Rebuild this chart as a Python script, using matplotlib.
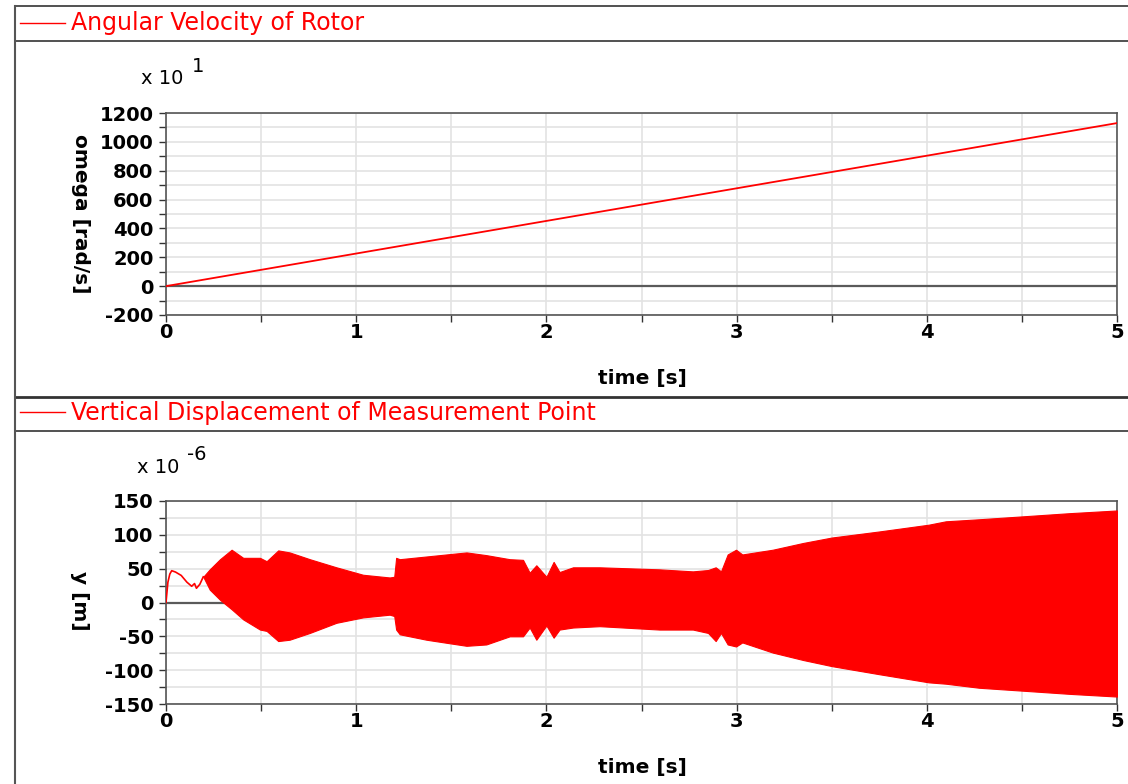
import numpy as np
import matplotlib.pyplot as plt
from matplotlib.lines import Line2D
from matplotlib.ticker import MultipleLocator

# --- data ---
# angular velocity of rotor, shown in units of x10 rad/s
t_omega = [0.0, 5.0]
omega = [0.0, 1130.0]

# vertical displacement (x1e-6 m): start transient as a line
t_start = [0.0, 0.01, 0.02, 0.03, 0.05, 0.08, 0.11, 0.135, 0.15, 0.16, 0.178, 0.196]
y_start = [0, 30, 42, 47, 45, 40, 30, 24, 28, 21, 27, 38]

# then the dense oscillation, kept as its upper / lower envelope
t_env = [0.196, 0.23, 0.284, 0.345, 0.406, 0.494, 0.529, 0.59, 0.65, 0.756,
         0.896, 1.036, 1.176, 1.20, 1.21, 1.229, 1.369, 1.509, 1.58, 1.684,
         1.807, 1.877, 1.912, 1.947, 2.0, 2.038, 2.069, 2.14, 2.28, 2.594,
         2.77, 2.85, 2.89, 2.918, 2.953, 2.997, 3.03, 3.19, 3.35, 3.50, 3.75,
         4.01, 4.1, 4.275, 4.54, 4.75, 5.0]
y_upper = [38, 49, 64, 78, 66, 66, 61, 77, 74, 64,
           52, 41, 37, 38, 66, 64, 68, 72, 74, 70,
           64, 63, 44, 55, 38, 60, 45, 52, 52, 49,
           46, 48, 52, 46, 71, 78, 71, 78, 88, 96, 105,
           115, 120, 123, 128, 132, 136]
y_lower = [38, 19, 4, -10, -25, -40, -42, -57, -55, -45,
           -30, -22, -18, -20, -40, -47, -55, -61, -64, -62,
           -50, -50, -37, -55, -34, -52, -40, -37, -35, -40,
           -40, -45, -57, -45, -62, -65, -59, -74, -85, -94, -106,
           -118, -120, -126, -131, -135, -139]

red = '#ff0000'
grid_c = '#e3e3e3'
frame_c = '#333333'

plt.rcParams['font.family'] = ['DejaVu Sans']
plt.rcParams['axes.unicode_minus'] = False

W, H = 1128, 784
fig = plt.figure(figsize=(W / 100, H / 100), dpi=100)


def px(x, y):
    # pixel position -> figure fraction
    return x / W, 1 - y / H


def style_axes(ax, ymin, ymax, major, minor):
    ax.set_xlim(0, 5)
    ax.set_ylim(ymin, ymax)
    ax.xaxis.set_major_locator(MultipleLocator(1))
    ax.xaxis.set_minor_locator(MultipleLocator(0.5))
    ax.yaxis.set_major_locator(MultipleLocator(major))
    ax.yaxis.set_minor_locator(MultipleLocator(minor))
    ax.grid(True, which='both', color=grid_c, lw=1.2, zorder=0)
    ax.set_axisbelow(True)
    ax.tick_params(which='both', direction='out', length=5, width=1,
                   color=frame_c, labelsize=14)
    ax.tick_params(axis='x', pad=1)
    ax.tick_params(axis='y', pad=4)
    for lab in ax.get_xticklabels() + ax.get_yticklabels():
        lab.set_fontweight('bold')
    for s in ax.spines.values():
        s.set_color('#555555')
        s.set_linewidth(1.2)
    ax.axhline(0, color='#5a5a5a', lw=1.6, zorder=1)


# top panel
ax1 = fig.add_axes([166 / W, 1 - 315 / H, (1117 - 166) / W, 202 / H])
style_axes(ax1, -200, 1200, 200, 100)
ax1.plot(t_omega, omega, color=red, lw=1.3, zorder=3)

# bottom panel
ax2 = fig.add_axes([166 / W, 1 - 704 / H, (1117 - 166) / W, 203 / H])
style_axes(ax2, -150, 150, 50, 25)
ax2.plot(t_start, y_start, color=red, lw=1.2, zorder=3)
ax2.fill_between(t_env, y_lower, y_upper, color=red, lw=0.8, edgecolor=red, zorder=3)

# axis labels
fig.text(*px(80, 214), 'omega [rad/s]', rotation=-90, fontsize=14.5,
         fontweight='bold', ha='center', va='center')
fig.text(*px(80, 601), 'y [m]', rotation=-90, fontsize=14.5,
         fontweight='bold', ha='center', va='center')
fig.text(*px(642, 378), 'time [s]', fontsize=14.5, fontweight='bold',
         ha='center', va='center')
fig.text(*px(642, 768), 'time [s]', fontsize=14.5, fontweight='bold',
         ha='center', va='center')

# scale factors
fig.text(*px(141, 84), 'x 10', fontsize=14, ha='left', va='baseline')
fig.text(*px(192, 72), '1', fontsize=14, ha='left', va='baseline')
fig.text(*px(137, 473), 'x 10', fontsize=14, ha='left', va='baseline')
fig.text(*px(187, 460), '-6', fontsize=14, ha='left', va='baseline')

# panel headers (legend line + title)
fig.add_artist(Line2D([20 / W, 65 / W], [1 - 22.5 / H] * 2, color=red, lw=1))
fig.text(*px(71, 23), 'Angular Velocity of Rotor', color=red, fontsize=17,
         ha='left', va='center')
fig.add_artist(Line2D([20 / W, 65 / W], [1 - 411.5 / H] * 2, color=red, lw=1))
fig.text(*px(71, 413), 'Vertical Displacement of Measurement Point', color=red,
         fontsize=17, ha='left', va='center')

# panel frame lines
for yy, lw in [(6, 1.2), (41, 1.2), (397, 2.0), (431, 1.2)]:
    fig.add_artist(Line2D([15 / W, 1.0], [1 - yy / H] * 2, color=frame_c, lw=lw))
fig.add_artist(Line2D([15 / W] * 2, [0, 1 - 6 / H], color='#555555', lw=1.5))

fig.savefig('out.png', dpi=100)
